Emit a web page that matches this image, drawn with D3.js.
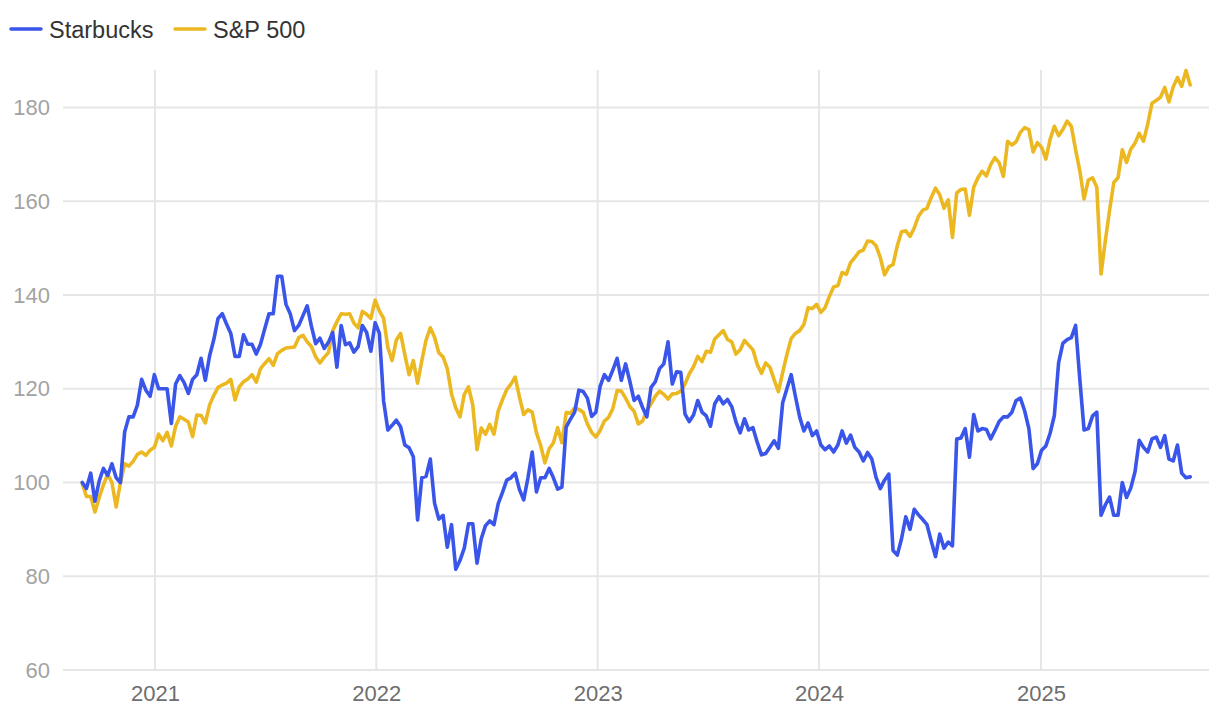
<!DOCTYPE html>
<html>
<head>
<meta charset="utf-8">
<script src="https://cdn.jsdelivr.net/npm/d3@7"></script>
<style>
  body { margin: 0; background: #fff; }
  svg { display: block; font-family: "Liberation Sans", Arial, sans-serif; }
</style>
</head>
<body>
<svg id="chart"></svg>
<script>
// weekly closes, rebased to 100 on the first day
const start_date = new Date(2020, 8, 3);

const series_names = ["Starbucks", "S&P 500"];
const series_colors = ["#3a55ea", "#ecb821"];

const starbucks = [
  100, 98.7, 102, 96, 100.3, 103, 101.5, 104, 101, 100, 110.8, 114, 114, 116.5, 122, 119.7, 118.4, 123, 120, 120,
  120, 112.6, 121, 122.8, 121.3, 119, 122, 123, 126.5, 121.8, 127, 130.5, 135, 136, 133.8, 131.8, 126.9, 126.9, 131.5, 129.5,
  129.5, 127.4, 129.5, 132.8, 136, 136, 144, 144, 138, 136, 132.4, 133.5, 135.6, 137.7, 133.3, 129.6, 130.8, 128.6, 129.9, 132,
  124.6, 133.5, 129.4, 129.8, 127.8, 129, 133.5, 132, 128, 134.1, 131.8, 117.4, 111.2, 112.2, 113.3, 111.9, 108, 107.4, 105.5, 92,
  101, 101.3, 105, 95.6, 92.2, 93, 86.2, 91, 81.5, 83.4, 86, 91.2, 91.2, 82.8, 88, 90.8, 91.8, 91, 95.5, 97.9,
  100.5, 101, 102, 98.5, 96.3, 101, 106.5, 98, 101, 101, 103, 101, 98.6, 99, 111.8, 113.5, 115, 119.7, 119.4, 118,
  114.1, 115, 120.5, 123, 121.8, 124, 126.5, 121.8, 125.3, 121.6, 117.5, 118.4, 116, 114, 120.3, 121.5, 124.3, 125.3, 130, 121,
  123.6, 123.5, 114.6, 113, 114.4, 117.5, 115, 114.2, 112, 116.8, 118.3, 116.8, 117.7, 116.2, 112.9, 110.6, 113.6, 111.2, 111.7, 108.6,
  105.9, 106.2, 107.5, 108.9, 107.3, 117, 120, 123, 118.4, 114, 111, 112.7, 110, 111, 108, 107, 107.8, 106.5, 108, 111,
  108.4, 110.1, 107.5, 106.5, 104.6, 106.4, 105, 101.1, 98.7, 100.5, 101.8, 85.5, 84.5, 88, 92.7, 90, 94.3, 93.1, 92.1, 91,
  87.5, 84.2, 89, 86, 87.3, 86.5, 109.3, 109.5, 111.5, 105.4, 114.5, 111, 111.5, 111.3, 109.3, 111.1, 113, 114, 114, 115,
  117.5, 118, 115.3, 111.5, 103, 104, 106.9, 107.8, 110.5, 114.3, 125.5, 129.7, 130.5, 130.9, 133.5, 122, 111.2, 111.5, 114.2, 115,
  93, 95.2, 96.9, 93, 93, 100, 96.8, 98.8, 102.3, 109, 107.5, 106.5, 109.3, 109.7, 107.5, 110, 105, 104.6, 108, 102,
  101, 101.2
];

const sp500 = [
  99.8, 97, 97, 93.7, 96.8, 99.5, 101.8, 100, 94.8, 100, 104, 103.5, 104.5, 106, 106.5, 105.8, 106.9, 107.5, 110.3, 108.9,
  110.7, 107.8, 112, 114, 113.5, 112.9, 109.8, 114.4, 114.3, 112.7, 116.5, 118.6, 120.3, 120.8, 121.2, 122, 117.6, 120.4, 121.5, 122.1,
  123, 121.4, 124.3, 125.4, 126.4, 125, 127.5, 128.2, 128.7, 128.8, 128.9, 130.9, 131.4, 130, 129, 126.8, 125.5, 126.7, 127.7, 132.4,
  134.3, 136, 135.9, 136, 134, 133, 136.5, 135.9, 135, 138.9, 136.6, 135, 128.8, 126, 130.4, 131.8, 127.3, 123, 126, 121.2,
  126, 130.4, 133, 131, 127.7, 126.8, 124.3, 118.9, 115.9, 114, 118.8, 120.4, 116.5, 107, 111.6, 110.3, 112.4, 110.3, 115.3, 117.7,
  119.8, 121, 122.5, 118.2, 114.5, 115.5, 115, 110.6, 107.9, 104.2, 107.2, 108.5, 111.7, 108.5, 114.9, 114.8, 115.9, 115.6, 115, 112.5,
  110.7, 109.7, 111.1, 113.1, 113.9, 115.8, 119.6, 119.5, 118, 116.2, 115.2, 112.5, 113.1, 115.4, 116.8, 118.4, 119.5, 118.8, 117.8, 118.9,
  119, 119.5, 121, 123.2, 124.7, 126.9, 125.8, 128, 127.8, 130.6, 131.5, 132.4, 130.5, 130, 127.4, 128.3, 130.3, 129.3, 128.3, 125.2,
  123.3, 125.5, 124.6, 121.9, 119.4, 123.5, 127.3, 130.7, 131.8, 132.4, 133.7, 137.3, 137.1, 138, 136.3, 137.3, 139.7, 141.7, 142, 144.8,
  144.4, 146.9, 148, 149.2, 149.6, 151.5, 151.4, 150.5, 148, 144.3, 146, 146.5, 150.5, 153.5, 153.7, 152.5, 154.3, 156.8, 158.1, 158.5,
  160.8, 162.8, 161.4, 158.5, 160.3, 152.3, 161.8, 162.5, 162.6, 157, 163, 165, 166.4, 165.4, 167.8, 169.3, 168.2, 165.3, 172.8, 172,
  172.7, 174.7, 175.7, 175.3, 170.5, 172.5, 171.5, 169, 173.2, 176, 174, 175.3, 177.1, 176, 171, 166.5, 160.5, 164.5, 165, 163,
  144.5, 151.5, 158, 164, 165, 171, 168.3, 171.1, 172.4, 174.5, 172.8, 176.5, 180.9, 181.5, 182.2, 184.3, 181.2, 184.4, 186.4, 184.5,
  187.9, 184.8
];

const y_ticks = [60, 80, 100, 120, 140, 160, 180];
const x_ticks = [2021, 2022, 2023, 2024, 2025];

const WIDTH = 1220;
const HEIGHT = 716;
const PLOT = { left: 63, right: 1209, top: 70, bottom: 670 };

const svg = d3.select("#chart")
  .attr("width", WIDTH)
  .attr("height", HEIGHT);

const xScale = d3.scaleTime()
  .domain([new Date(2020, 7, 2, 8), new Date(2025, 9, 5)])
  .range([PLOT.left, PLOT.right]);

const yScale = d3.scaleLinear()
  .domain([60, 188])
  .range([PLOT.bottom, PLOT.top]);

// gridlines
const grid = svg.append("g");

grid.selectAll(".hgrid")
  .data(y_ticks)
  .enter()
  .append("line")
  .attr("x1", PLOT.left)
  .attr("x2", PLOT.right)
  .attr("y1", d => yScale(d))
  .attr("y2", d => yScale(d))
  .style("stroke", "#e6e6e6")
  .style("stroke-width", 2);

grid.selectAll(".vgrid")
  .data(x_ticks)
  .enter()
  .append("line")
  .attr("x1", d => xScale(new Date(d, 0, 1)))
  .attr("x2", d => xScale(new Date(d, 0, 1)))
  .attr("y1", PLOT.top)
  .attr("y2", PLOT.bottom)
  .style("stroke", "#e6e6e6")
  .style("stroke-width", 2);

// axes (text only)
const axisLeft = d3.axisLeft(yScale)
  .tickValues(y_ticks)
  .tickSize(0)
  .tickPadding(13);

const yAxis = svg.append("g")
  .attr("transform", `translate(${PLOT.left}, 0)`)
  .call(axisLeft);
yAxis.select(".domain").remove();
yAxis.selectAll("text")
  .style("font-family", "'Liberation Sans', Arial, sans-serif")
  .style("font-size", "22px")
  .style("fill", "#a3a3a3");

const axisBottom = d3.axisBottom(xScale)
  .tickValues(x_ticks.map(d => new Date(d, 0, 1)))
  .tickFormat(d3.timeFormat("%Y"))
  .tickSize(0)
  .tickPadding(15);

const xAxis = svg.append("g")
  .attr("transform", `translate(0, ${PLOT.bottom})`)
  .call(axisBottom);
xAxis.select(".domain").remove();
xAxis.selectAll("text")
  .style("font-family", "'Liberation Sans', Arial, sans-serif")
  .style("font-size", "22px")
  .style("fill", "#6e6e6e");

// lines
const dates = starbucks.map((d, i) => d3.timeDay.offset(start_date, 7 * i));

const line = d3.line()
  .x((d, i) => xScale(dates[i]))
  .y(d => yScale(d));

const lines = svg.append("g");
[sp500, starbucks].forEach((values, k) => {
  lines.append("path")
    .datum(values)
    .attr("d", line)
    .style("fill", "none")
    .style("stroke", series_colors[1 - k])
    .style("stroke-width", 3.6)
    .style("stroke-linejoin", "round")
    .style("stroke-linecap", "round");
});

// legend
const legend = svg.append("g");
const legend_x = [11, 175];
series_names.forEach((name, i) => {
  const g = legend.append("g")
    .attr("transform", `translate(${legend_x[i]}, 29)`);
  g.append("line")
    .attr("x1", 0)
    .attr("x2", 30)
    .style("stroke", series_colors[i])
    .style("stroke-width", 3.5)
    .style("stroke-linecap", "round");
  g.append("text")
    .attr("x", 38)
    .attr("y", 8.5)
    .style("font-size", "23.5px")
    .style("fill", "#333")
    .text(name);
});
</script>
</body>
</html>
